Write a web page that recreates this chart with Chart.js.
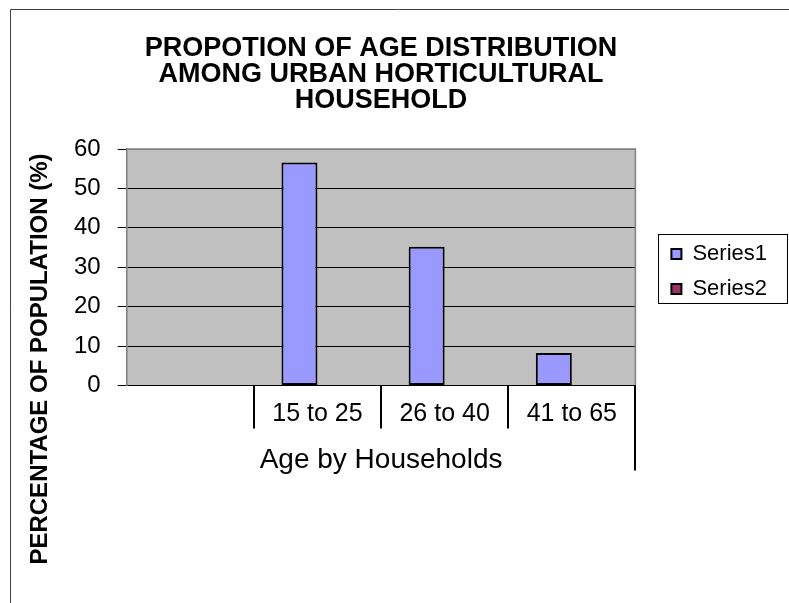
<!DOCTYPE html>
<html>
<head>
<meta charset="utf-8">
<script src="https://cdn.jsdelivr.net/npm/chart.js@4.4.0/dist/chart.umd.min.js"></script>
<style>
  html, body { margin: 0; padding: 0; background: #fff; }
</style>
</head>
<body>
<canvas id="ageChart" width="789" height="603"></canvas>
<script>
// data
const categories = ['', '15 to 25', '26 to 40', '41 to 65'];
const series1 = [null, 56.6, 35.2, 8.2];
const series2 = [null, null, null, null];
const yTicks = [0, 10, 20, 30, 40, 50, 60];
const titleLines = ['PROPOTION OF AGE DISTRIBUTION', 'AMONG URBAN HORTICULTURAL', 'HOUSEHOLD'];
const xTitle = 'Age by Households';
const yTitle = 'PERCENTAGE OF POPULATION (%)';

Chart.defaults.font.family = '"Liberation Sans", Arial, sans-serif';
Chart.defaults.color = '#000';

// grey plot background, frame, category dividers, y title, legend box
const excelLook = {
    id: 'excelLook',
    beforeDraw(chart) {
        const c = chart.ctx, a = chart.chartArea;
        c.save();
        c.fillStyle = '#fff';
        c.fillRect(0, 0, chart.width, chart.height);
        // outer frame
        c.strokeStyle = '#404040';
        c.lineWidth = 1;
        c.beginPath();
        c.moveTo(10.5, chart.height);
        c.lineTo(10.5, 9.5);
        c.lineTo(chart.width, 9.5);
        c.stroke();
        c.fillStyle = '#c0c0c0';
        c.fillRect(a.left, a.top, a.right - a.left, a.bottom - a.top);
        c.restore();
    },
    afterDraw(chart) {
        const c = chart.ctx, a = chart.chartArea, x = chart.scales.x;
        c.save();
        // plot border top/right
        c.strokeStyle = '#808080';
        c.lineWidth = 1.5;
        c.beginPath();
        c.moveTo(a.left, a.top);
        c.lineTo(a.right, a.top);
        c.lineTo(a.right, a.bottom);
        c.stroke();
        // category dividers below the axis
        const half = (x.getPixelForTick(1) - x.getPixelForTick(0)) / 2;
        c.strokeStyle = '#000';
        c.lineWidth = 2;
        for (let i = 1; i <= categories.length; i++) {
            const px = Math.round(x.getPixelForTick(i - 1) + half);
            const len = i === categories.length ? 85 : 43;
            c.beginPath();
            c.moveTo(px, a.bottom);
            c.lineTo(px, a.bottom + len);
            c.stroke();
        }
        // y axis title
        c.font = 'bold 24px "Liberation Sans", Arial, sans-serif';
        c.fillStyle = '#000';
        c.textAlign = 'center';
        c.textBaseline = 'middle';
        c.translate(40, 359);
        c.rotate(-Math.PI / 2);
        c.fillText(yTitle, 0, 0);
        c.restore();
        // legend frame
        const lg = chart.legend;
        const boxes = lg.legendHitBoxes;
        if (boxes && boxes.length) {
            const last = boxes[boxes.length - 1];
            const top = Math.round(boxes[0].top - 9);
            const bottom = Math.round(last.top + last.height + 3);
            c.save();
            c.strokeStyle = '#000';
            c.lineWidth = 1;
            c.strokeRect(Math.round(lg.left) + 0.5, top + 0.5, chart.width - 2 - Math.round(lg.left), bottom - top);
            c.restore();
        }
    }
};

const ctx = document.getElementById('ageChart').getContext('2d');
const ageChart = new Chart(ctx, {
    type: 'bar',
    data: {
        labels: categories,
        datasets: [
            {
                label: 'Series1',
                data: series1,
                backgroundColor: '#9999ff',
                borderColor: '#000',
                borderWidth: 2,
                borderSkipped: false
            },
            {
                label: 'Series2',
                data: series2,
                backgroundColor: '#993366',
                borderColor: '#000',
                borderWidth: 2,
                borderSkipped: false
            }
        ]
    },
    options: {
        responsive: false,
        animation: false,
        layout: { padding: { left: 57, right: 12, top: 36, bottom: 126 } },
        datasets: { bar: { categoryPercentage: 0.566, barPercentage: 1 } },
        plugins: {
            title: {
                display: true,
                fullSize: false,
                text: titleLines,
                font: { size: 27, weight: 'bold', lineHeight: 0.963 },
                padding: { top: 0, bottom: 35 }
            },
            legend: {
                position: 'right',
                title: { display: true, text: ' ', font: { size: 10, lineHeight: 3 }, padding: 0 },
                labels: {
                    boxWidth: 10,
                    boxHeight: 10,
                    padding: 13,
                    font: { size: 22 },
                    color: '#000'
                }
            },
            tooltip: { enabled: false }
        },
        scales: {
            x: {
                grid: { display: false },
                border: { color: '#000', width: 1 },
                ticks: { font: { size: 25 }, padding: 6, maxRotation: 0 },
                title: { display: true, text: xTitle, font: { size: 28 }, padding: { top: 8, bottom: 0 } }
            },
            y: {
                min: 0,
                max: 60,
                afterBuildTicks(scale) { scale.ticks = yTicks.map(v => ({ value: v })); },
                grid: {
                    color: c => (c.tick && c.tick.value === 60) ? '#808080' : '#000',
                    tickColor: '#000',
                    tickLength: 9,
                    lineWidth: 1
                },
                border: { color: '#808080', width: 1.5 },
                ticks: { font: { size: 24 }, padding: 17 }
            },
            // empty spacer between plot and legend
            gap: {
                type: 'linear',
                position: 'right',
                display: true,
                grid: { display: false },
                border: { display: false },
                ticks: { display: false },
                afterFit(scale) { scale.width = 23; }
            }
        }
    },
    plugins: [excelLook]
});
</script>
</body>
</html>
